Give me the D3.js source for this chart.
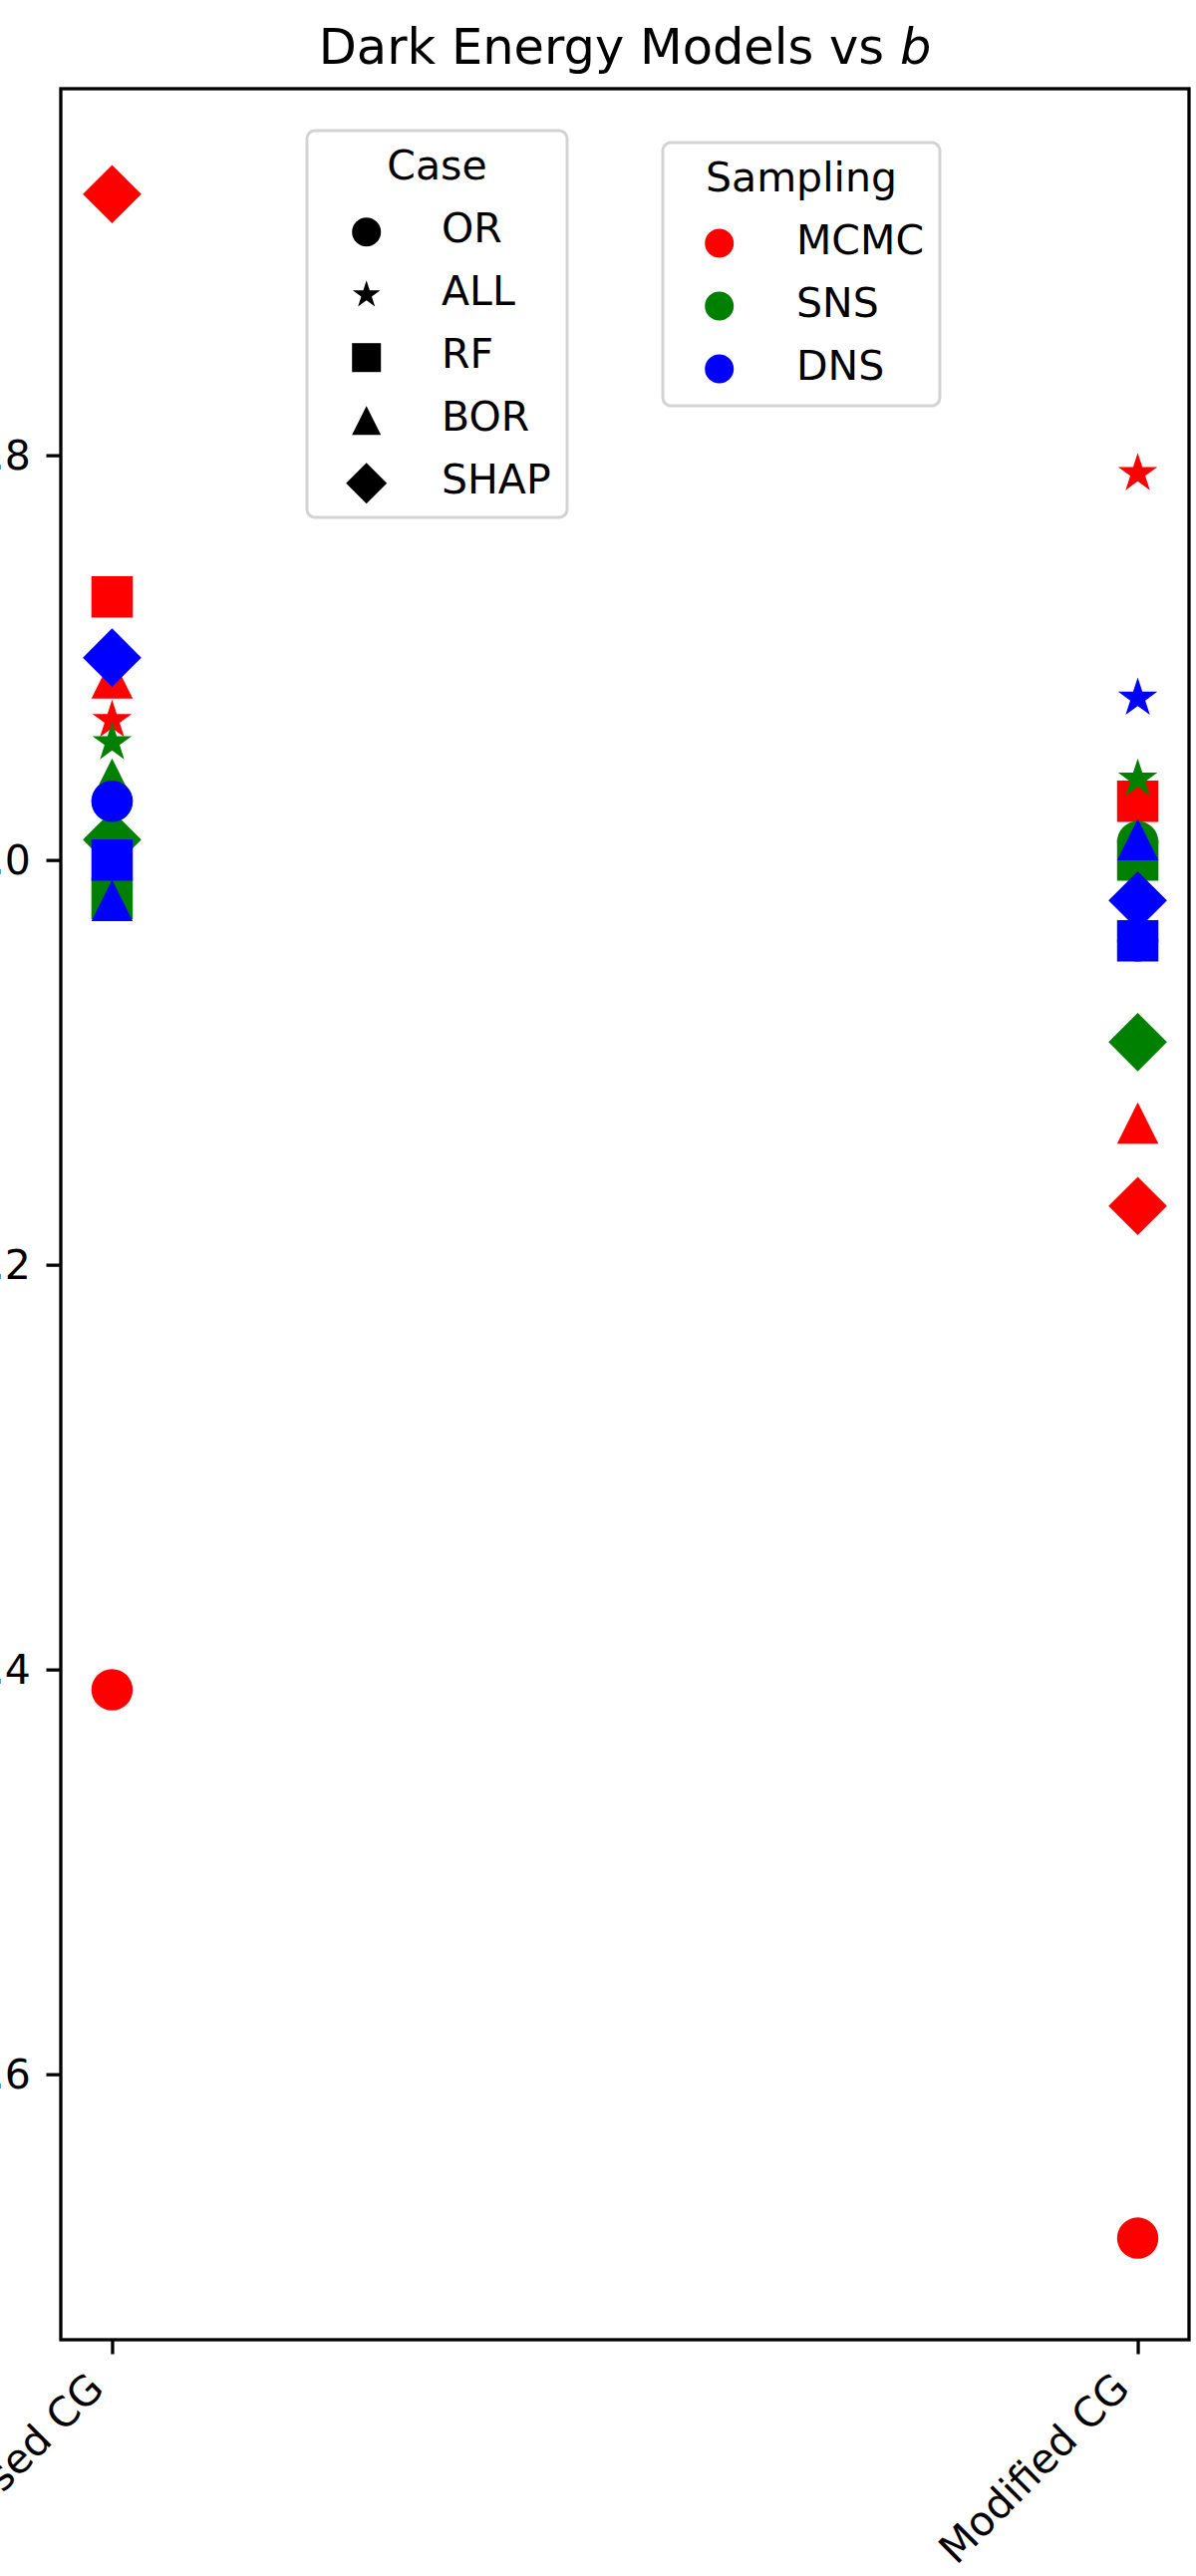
<!DOCTYPE html>
<html>
<head>
<meta charset="utf-8">
<script src="https://cdn.jsdelivr.net/npm/d3@7"></script>
<style>
  html, body { margin: 0; padding: 0; background: #fff; }
  svg { display: block; overflow: hidden; font-family: "DejaVu Sans", sans-serif; }
</style>
</head>
<body>
<svg id="chart" width="1200" height="2584"></svg>
<script>
// data
var categories = ["Proposed CG", "Modified CG"];
var cases = ["OR", "ALL", "RF", "BOR", "SHAP"];
var samplings = ["MCMC", "SNS", "DNS"];

// values per case (OR, ALL, RF, BOR, SHAP)
var mcmcProposed = [-1.410, -0.931, -0.870, -0.910, -0.671];
var mcmcModified = [-1.681, -0.809, -0.971, -1.130, -1.171];
var snsProposed = [-0.971, -0.942, -1.019, -0.960, -0.990];
var snsModified = [-0.991, -0.960, -1.000, -0.990, -1.090];
var dnsProposed = [-0.971, -1.000, -1.000, -1.020, -0.900];
var dnsModified = [-1.040, -0.920, -1.040, -0.990, -1.020];

var yTicks = [-0.8, -1.0, -1.2, -1.4, -1.6];
var yDomain = [-1.7312, -0.6189];

var seriesValues = {
    MCMC: [mcmcProposed, mcmcModified],
    SNS: [snsProposed, snsModified],
    DNS: [dnsProposed, dnsModified]
};
var colors = { MCMC: "#ff0000", SNS: "#008000", DNS: "#0000ff" };
var shapes = { OR: "circle", ALL: "star", RF: "square", BOR: "triangle", SHAP: "diamond" };

var margin = { top: 89, right: 7, bottom: 237, left: 61 },
    width = 1200 - margin.left - margin.right,
    height = 2584 - margin.top - margin.bottom;
var fontSize = 41, tickLen = 14.5, tickPad = 14.5;

// matplotlib style marker outlines, centred on 0,0
function markerPath(shape, ms) {
    var h = ms / 2;
    if (shape === "circle") {
        return "M" + h + ",0A" + h + "," + h + " 0 1,1 " + (-h) + ",0A" + h + "," + h + " 0 1,1 " + h + ",0Z";
    }
    if (shape === "square") {
        return "M" + (-h) + "," + (-h) + "H" + h + "V" + h + "H" + (-h) + "Z";
    }
    if (shape === "triangle") {
        return "M0," + (-h) + "L" + h + "," + h + "L" + (-h) + "," + h + "Z";
    }
    if (shape === "diamond") {
        var q = ms / Math.SQRT2;
        return "M0," + (-q) + "L" + q + ",0L0," + q + "L" + (-q) + ",0Z";
    }
    // star
    var pts = [];
    for (var i = 0; i < 10; i++) {
        var a = Math.PI / 2 + i * Math.PI / 5;
        var r = (i % 2 === 0 ? 1 : 0.381966) * h;
        pts.push([r * Math.cos(a), -r * Math.sin(a)]);
    }
    return "M" + pts.map(function (p) { return p[0].toFixed(2) + "," + p[1].toFixed(2); }).join("L") + "Z";
}

var svg = d3.select("#chart");
var g = svg.append("g").attr("transform", "translate(" + margin.left + "," + margin.top + ")");

var x = d3.scalePoint().domain(categories).range([0, width]).padding(0.05);
var y = d3.scaleLinear().domain(yDomain).range([height, 0]);

// points: sampling after sampling, case after case
samplings.forEach(function (s) {
    cases.forEach(function (c, ci) {
        var pts = categories.map(function (cat, k) { return { cat: cat, v: seriesValues[s][k][ci] }; });
        g.selectAll(null)
            .data(pts)
            .enter().append("path")
            .attr("d", markerPath(shapes[c], 41.5))
            .attr("fill", colors[s])
            .attr("transform", function (d) { return "translate(" + x(d.cat) + "," + y(d.v) + ")"; });
    });
});

// y axis (labels run off the left edge, as in the original figure)
var yAxis = d3.axisLeft(y).tickValues(yTicks).tickFormat(d3.format(".1f"))
    .tickSize(tickLen).tickPadding(tickPad + 1.2);
var yG = g.append("g").call(yAxis);
yG.select(".domain").remove();
yG.selectAll(".tick line").attr("stroke", "#000").attr("stroke-width", 3.3);
yG.selectAll(".tick text").attr("font-size", fontSize).attr("font-family", "DejaVu Sans")
    .attr("fill", "#000").attr("dy", "0.34em");

// x axis
var xAxis = d3.axisBottom(x).tickSize(tickLen).tickPadding(tickPad);
var xG = g.append("g").attr("transform", "translate(0," + height + ")").call(xAxis);
xG.select(".domain").remove();
xG.selectAll(".tick line").attr("stroke", "#000").attr("stroke-width", 3.3);
var asc = 0.76 * fontSize, desc = 0.236 * fontSize, s45 = Math.SQRT1_2;
xG.selectAll(".tick text")
    .attr("font-size", fontSize).attr("font-family", "DejaVu Sans").attr("fill", "#000")
    .attr("text-anchor", "end")
    .attr("dy", null)
    .attr("y", null)
    .attr("transform", "translate(" + (-desc * s45) + "," + (tickLen + tickPad + asc * s45) + ") rotate(-45)");

// frame
g.append("rect").attr("width", width).attr("height", height)
    .attr("fill", "none").attr("stroke", "#000").attr("stroke-width", 3.3);

// title
var title = svg.append("text")
    .attr("x", margin.left + width / 2).attr("y", margin.top - 25)
    .attr("text-anchor", "middle").attr("font-size", 49.5).attr("fill", "#000");
title.append("tspan").text("Dark Energy Models vs ");
title.append("tspan").attr("font-style", "italic").text("b");

// legends
function legend(lx, ly, lw, lh, titleText, items, markerX, labelX, titleY, rowY) {
    var lg = svg.append("g");
    lg.append("rect").attr("x", lx).attr("y", ly).attr("width", lw).attr("height", lh)
        .attr("rx", 8).attr("fill", "#fff").attr("fill-opacity", 0.8)
        .attr("stroke", "#d3d3d3").attr("stroke-width", 3);
    lg.append("text").attr("x", lx + lw / 2).attr("y", titleY).attr("text-anchor", "middle")
        .attr("font-size", fontSize).attr("fill", "#000").text(titleText);
    var rows = lg.selectAll(null).data(items).enter().append("g")
        .attr("transform", function (d, i) { return "translate(0," + (rowY + i * 63) + ")"; });
    rows.append("path")
        .attr("d", function (d) { return markerPath(d.shape, 29); })
        .attr("fill", function (d) { return d.color; })
        .attr("transform", "translate(" + markerX + ",0)");
    rows.append("text").attr("x", labelX).attr("y", 10.6)
        .attr("font-size", fontSize).attr("fill", "#000")
        .text(function (d) { return d.label; });
}

legend(308, 131, 261, 388, "Case",
    cases.map(function (c) { return { label: c, shape: shapes[c], color: "#000" }; }),
    367.7, 443, 180, 232.7);
legend(665, 143, 278, 264, "Sampling",
    samplings.map(function (s) { return { label: s, shape: "circle", color: colors[s] }; }),
    721.7, 799, 192, 244);
</script>
</body>
</html>
